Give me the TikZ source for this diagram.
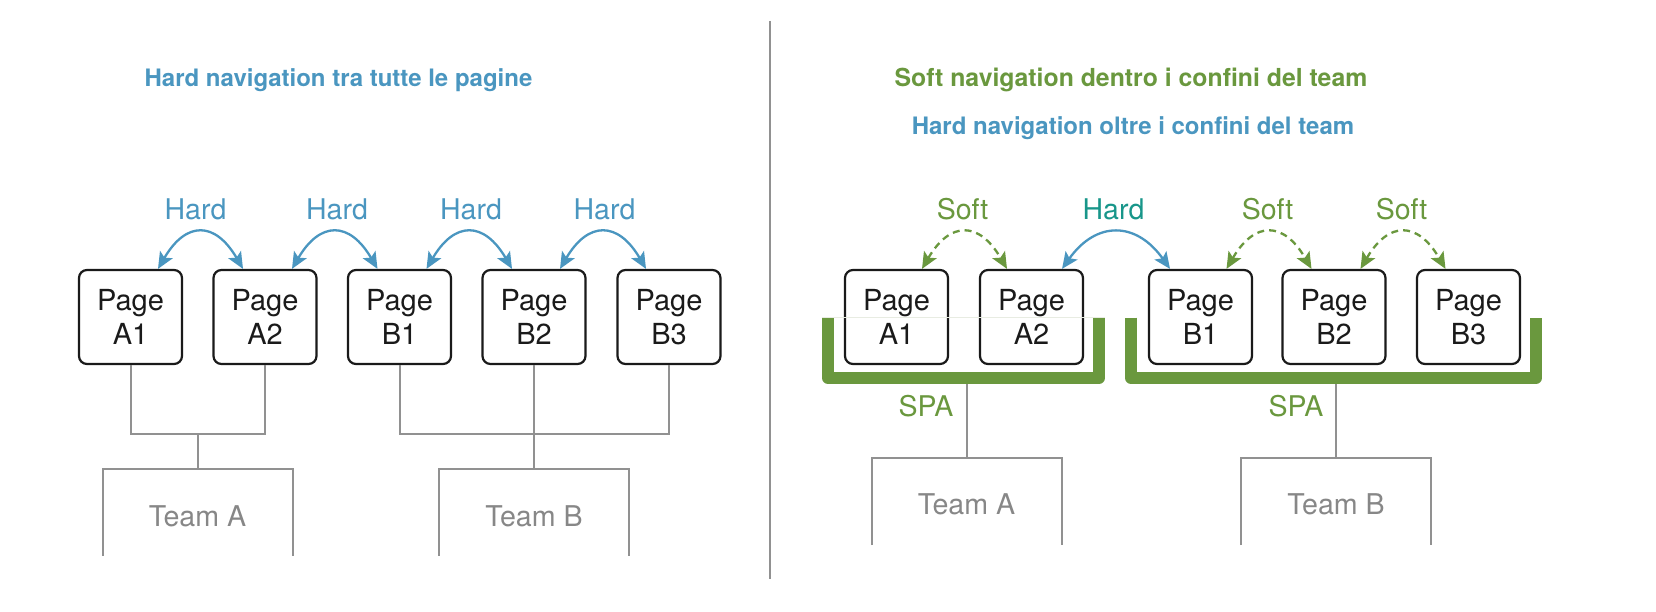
\documentclass[tikz,border=0pt]{standalone}
\usepackage{fontspec}
\setmainfont{TeX Gyre Heros}
\usetikzlibrary{arrows.meta}
\definecolor{navblue}{RGB}{74,150,192}
\definecolor{navgreen}{RGB}{106,152,62}
\definecolor{navteal}{RGB}{24,150,138}
\definecolor{linegray}{RGB}{145,145,145}
\definecolor{teamgray}{RGB}{135,135,135}
\definecolor{pageink}{RGB}{26,26,26}
\definecolor{faintline}{RGB}{232,236,226}
\begin{document}
\begin{tikzpicture}[x=1pt,y=-1pt,
  pagebox/.style={draw=pageink, fill=white, line width=2.2pt, rounded corners=8pt,
    minimum width=103pt, minimum height=94pt, inner sep=0pt, align=center,
    font=\fontsize{29}{34.4}\selectfont, text=pageink},
  teambox/.style={minimum width=190pt, minimum height=87.3pt, inner sep=0pt, outer sep=0pt,
    text depth=0pt, font=\fontsize{28.6}{34}\selectfont, text=teamgray},
  teamline/.style={draw=linegray, line width=2pt},
  grayline/.style={draw=linegray, line width=2pt},
  hardarc/.style={draw=navblue, line width=2.3pt, >={Stealth[length=16.5pt,width=14.5pt,inset=3.5pt]}, <->},
  softarc/.style={draw=navgreen, line width=2.3pt, dash pattern=on 7pt off 5pt, >={Stealth[length=16.5pt,width=14.5pt,inset=3.5pt]}, <->},
  arclabel/.style={anchor=base, font=\fontsize{28.5}{34}\selectfont},
  titletext/.style={anchor=base, font=\bfseries\fontsize{24}{29}\selectfont},
  bracket/.style={draw=navgreen, line width=12pt, line join=round, line cap=butt},
  divider/.style={draw=linegray, line width=2pt}
]
\useasboundingbox (0,0) rectangle (1656,612);
\fill[white] (0,0) rectangle (1656,612);

% ---------- divider
\draw[divider] (769.5,21) -- (769.5,579);

% ---------- left panel
\node[titletext, text=navblue] (ltitle) at (338.5,86.7) {Hard navigation tra tutte le pagine};

\node[pagebox] (LA1) at (130.5,317) {Page\\A1};
\node[pagebox] (LA2) at (265,317) {Page\\A2};
\node[pagebox] (LB1) at (399.5,317) {Page\\B1};
\node[pagebox] (LB2) at (534,317) {Page\\B2};
\node[pagebox] (LB3) at (669,317) {Page\\B3};

\draw[hardarc] ([xshift=27.5pt]LA1.north) .. controls +(28,-48) and +(-28,-48) .. ([xshift=-22pt]LA2.north);
\draw[hardarc] ([xshift=27pt]LA2.north) .. controls +(28,-48) and +(-28,-48) .. ([xshift=-22pt]LB1.north);
\draw[hardarc] ([xshift=27pt]LB1.north) .. controls +(28,-48) and +(-28,-48) .. ([xshift=-22pt]LB2.north);
\draw[hardarc] ([xshift=26pt]LB2.north) .. controls +(28,-48) and +(-28,-48) .. ([xshift=-23pt]LB3.north);

\node[arclabel, text=navblue] (lh1) at (195.5,220) {Hard};
\node[arclabel, text=navblue] (lh2) at (337,220) {Hard};
\node[arclabel, text=navblue] (lh3) at (471,220) {Hard};
\node[arclabel, text=navblue] (lh4) at (604.5,220) {Hard};

\node[teambox, text height=28.5pt] (LteamA) at (197.5,512.3) {Team A};
\node[teambox, text height=28.5pt] (LteamB) at (534,512.3) {Team B};
\draw[teamline] (LteamA.south west) -- (LteamA.north west) -- (LteamA.north east) -- (LteamA.south east);
\draw[teamline] (LteamB.south west) -- (LteamB.north west) -- (LteamB.north east) -- (LteamB.south east);

\coordinate (LjA) at (197.5,434.3);
\coordinate (LjB) at (534,434.3);
\draw[grayline] (LA1.south) |- (LjA) -| (LA2.south);
\draw[grayline] (LjA) -- (LteamA.north);
\draw[grayline] (LB1.south) |- (LjB) -| (LB3.south);
\draw[grayline] (LB2.south) -- (LteamB.north);

% ---------- right panel
\node[titletext, text=navgreen, font=\bfseries\fontsize{24.8}{29}\selectfont] (rtitle1) at (1131,86.7) {Soft navigation dentro i confini del team};
\node[titletext, text=navblue] (rtitle2) at (1133,135) {Hard navigation oltre i confini del team};

\draw[bracket] (828,317.5) -- (828,378) -- (1099,378) -- (1099,317.5);
\draw[bracket] (1131,317.5) -- (1131,378) -- (1535.8,378) -- (1535.8,317.5);

\node[pagebox] (RA1) at (896.5,317) {Page\\A1};
\node[pagebox] (RA2) at (1031.5,317) {Page\\A2};
\node[pagebox] (RB1) at (1200.5,317) {Page\\B1};
\node[pagebox] (RB2) at (1334,317) {Page\\B2};
\node[pagebox] (RB3) at (1468.5,317) {Page\\B3};

\draw[faintline, line width=1pt] (822,317) -- (1105,317);

\draw[softarc] ([xshift=25.5pt]RA1.north) .. controls +(28,-48) and +(-28,-48) .. ([xshift=-24.5pt]RA2.north);
\draw[hardarc] ([xshift=30.5pt]RA2.north) .. controls +(34,-48) and +(-34,-48) .. ([xshift=-30.5pt]RB1.north);
\draw[softarc] ([xshift=26pt]RB1.north) .. controls +(28,-48) and +(-28,-48) .. ([xshift=-22.5pt]RB2.north);
\draw[softarc] ([xshift=26.5pt]RB2.north) .. controls +(28,-48) and +(-28,-48) .. ([xshift=-23pt]RB3.north);

\node[arclabel, text=navgreen] (rs1) at (962.5,220) {Soft};
\node[arclabel, text=navteal] (rh1) at (1113.5,220) {Hard};
\node[arclabel, text=navgreen] (rs2) at (1267.5,220) {Soft};
\node[arclabel, text=navgreen] (rs3) at (1401.5,220) {Soft};

\node[arclabel, text=navgreen] (spaAl) at (926,416.7) {SPA};
\node[arclabel, text=navgreen] (spaBl) at (1296,416.7) {SPA};

\node[teambox, text height=25.2pt] (RteamA) at (966.5,501.4) {Team A};
\node[teambox, text height=25.2pt] (RteamB) at (1336,501.4) {Team B};
\draw[teamline] (RteamA.south west) -- (RteamA.north west) -- (RteamA.north east) -- (RteamA.south east);
\draw[teamline] (RteamB.south west) -- (RteamB.north west) -- (RteamB.north east) -- (RteamB.south east);

\coordinate (spaA) at (966.5,384);
\coordinate (spaB) at (1336,384);
\draw[grayline] (spaA) -- (RteamA.north);
\draw[grayline] (spaB) -- (RteamB.north);
\end{tikzpicture}
\end{document}
